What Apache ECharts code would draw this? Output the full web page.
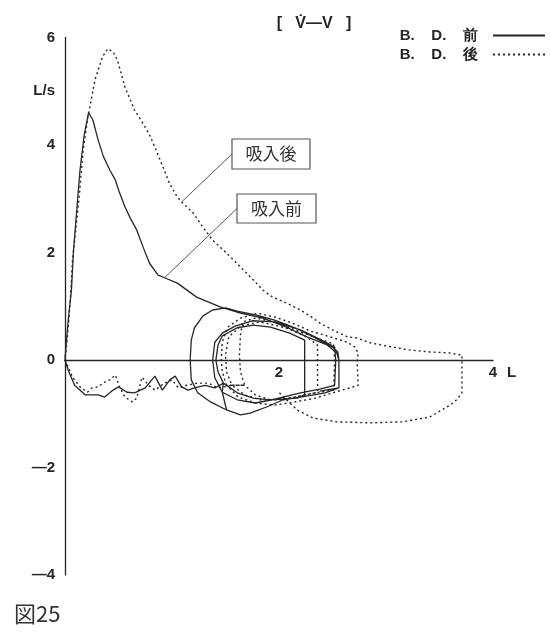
<!DOCTYPE html>
<html>
<head>
<meta charset="utf-8">
<script src="https://cdn.jsdelivr.net/npm/echarts@6/dist/echarts.min.js"></script>
<style>
  html, body { margin: 0; padding: 0; background: #fff; }
  #chart { width: 551px; height: 634px; }
</style>
</head>
<body>
<div id="chart"></div>
<script>
// Flow–volume loops before / after bronchodilator (volume in L, flow in L/s)

// ---- B.D. 前 (before) ----
// tidal breathing loops
const preTidal = [
  [1.51,-0.93],[1.36,-0.78],[1.24,-0.61],[1.18,-0.37],[1.17,0],[1.18,0.37],[1.21,0.60],[1.29,0.82],
  [1.38,0.93],[1.50,0.97],[1.61,0.91],[1.78,0.84],[1.96,0.74],[2.15,0.60],[2.34,0.41],[2.50,0.24],
  [2.55,0.15],[2.56,0],[2.56,-0.52],[2.43,-0.61],[2.20,-0.69],[2.04,-0.74],[1.89,-0.87],[1.73,-0.99],
  [1.64,-1.02],[1.51,-0.93],
  [1.47,-0.60],[1.40,-0.33],[1.38,0],[1.40,0.33],[1.47,0.50],[1.59,0.63],[1.75,0.73],[1.96,0.71],
  [2.20,0.56],[2.38,0.39],[2.52,0.24],[2.53,0],[2.52,-0.47],[2.38,-0.54],[2.20,-0.61],[1.96,-0.73],
  [1.78,-0.80],[1.61,-0.74],[1.47,-0.60],
  [1.48,-0.43],[1.43,-0.22],[1.41,0],[1.43,0.28],[1.47,0.45],[1.61,0.60],[1.76,0.65],[1.92,0.61],
  [2.10,0.50],[2.24,0.37],[2.24,0],[2.24,-0.65],[2.17,-0.71],[1.92,-0.74],[1.76,-0.71],[1.61,-0.61],
  [1.48,-0.43]
];
// maximal inspiration back to full lung volume
const preInspiration = [
  [1.40,-0.52],[1.31,-0.47],[1.21,-0.52],[1.15,-0.56],[1.09,-0.50],[1.03,-0.30],[0.98,-0.37],
  [0.91,-0.56],[0.84,-0.30],[0.75,-0.52],[0.65,-0.61],[0.58,-0.60],[0.50,-0.50],[0.45,-0.56],
  [0.37,-0.69],[0.31,-0.65],[0.19,-0.65],[0.09,-0.47],[0.03,-0.19],[0,0]
];
// forced expiration
const preForced = [
  [0.01,0.28],[0.03,0.74],[0.06,1.30],[0.08,2.05],[0.11,2.79],[0.14,3.53],[0.18,4.19],[0.21,4.50],
  [0.22,4.60],[0.26,4.47],[0.31,4.09],[0.36,3.78],[0.42,3.53],[0.47,3.35],[0.51,3.11],[0.56,2.85],
  [0.61,2.64],[0.67,2.42],[0.73,2.10],[0.79,1.80],[0.87,1.58],[0.93,1.53],[1.05,1.43],[1.23,1.17],
  [1.45,0.99],[1.64,0.87],[1.85,0.78],[2.07,0.61],[2.26,0.43],[2.45,0.28],[2.54,0.13],[2.56,0],
  [2.56,-0.52],[2.38,-0.58]
];

// ---- B.D. 後 (after) ----
const postTidal = [
  [1.51,-0.47],[1.47,-0.22],[1.46,0],[1.47,0.33],[1.52,0.61],[1.64,0.78],[1.80,0.87],[1.96,0.80],
  [2.12,0.69],[2.29,0.54],[2.48,0.43],[2.64,0.33],[2.71,0.24],[2.74,0.13],[2.73,-0.04],[2.74,-0.47],
  [2.66,-0.52],[2.52,-0.60],[2.34,-0.71],[2.15,-0.78],[1.96,-0.84],[1.78,-0.80],[1.62,-0.69],[1.51,-0.47],
  [1.68,-0.47],[1.64,-0.22],[1.63,0.09],[1.64,0.47],[1.66,0.71],[1.78,0.78],[1.96,0.71],[2.20,0.52],
  [2.38,0.39],[2.51,0.30],[2.52,0],[2.51,-0.56],[2.34,-0.61],[2.10,-0.71],[1.92,-0.74],[1.78,-0.65],
  [1.68,-0.47],
  [1.56,-0.47],[1.51,-0.22],[1.50,0.09],[1.53,0.43],[1.64,0.63],[1.82,0.71],[2.06,0.60],[2.24,0.45],
  [2.36,0.28],[2.36,0],[2.36,-0.60],[2.20,-0.67],[2.01,-0.74],[1.82,-0.74],[1.68,-0.65],[1.56,-0.47]
];
const postInspiration = [
  [1.43,-0.52],[1.34,-0.43],[1.24,-0.43],[1.14,-0.47],[1.06,-0.52],[1.00,-0.37],[0.93,-0.43],
  [0.84,-0.56],[0.78,-0.47],[0.72,-0.32],[0.67,-0.71],[0.63,-0.78],[0.56,-0.69],[0.51,-0.50],
  [0.47,-0.28],[0.42,-0.37],[0.37,-0.41],[0.31,-0.50],[0.25,-0.52],[0.21,-0.60],[0.14,-0.50],
  [0.07,-0.32],[0.03,-0.13],[0,0]
];
const postForced = [
  [0.02,0.37],[0.05,1.12],[0.07,1.86],[0.10,2.42],[0.13,2.98],[0.17,3.91],[0.21,4.47],[0.28,5.21],
  [0.35,5.64],[0.40,5.79],[0.45,5.73],[0.49,5.58],[0.56,5.08],[0.65,4.65],[0.72,4.43],[0.79,4.19],
  [0.85,3.91],[0.92,3.57],[0.98,3.27],[1.05,3.03],[1.09,2.94],[1.20,2.73],[1.29,2.47],[1.38,2.23],
  [1.51,1.99],[1.64,1.73],[1.76,1.49],[1.85,1.30],[1.94,1.17],[2.07,1.06],[2.20,0.93],[2.29,0.82],
  [2.38,0.69],[2.50,0.56],[2.64,0.43],[2.73,0.41],[2.85,0.32],[3.01,0.26],[3.20,0.19],[3.41,0.15],
  [3.60,0.13],[3.71,0.09],[3.71,0]
];
// inspiration after the forced breath
const postReturn = [
  [3.71,-0.61],[3.66,-0.74],[3.60,-0.84],[3.41,-1.06],[3.16,-1.15],[2.85,-1.17],[2.54,-1.15],
  [2.32,-1.08],[2.17,-0.93],[2.07,-0.74],[2.00,-0.60]
];

// points the callouts point at
const calloutPost = [1.09, 2.94];
const calloutPre = [0.93, 1.53];

// axis tick labels
const xTickValues = [2, 4];
const xTickLabels = ['2', '4'];
const yTickLabels = { 6: '6', 5: 'L/s', 4: '4', 2: '2', 0: '0', '-2': '—2', '-4': '—4' };

const seriesNames = ['B.    D.    前', 'B.    D.    後'];

const preData = preTidal.concat(preInspiration, preForced);
const postData = postTidal.concat(postInspiration, postForced, postReturn);

const ink = '#262626';
const numFont = { fontFamily: 'Liberation Sans', fontWeight: 'bold', fontSize: 15, color: ink };

const chart = echarts.init(document.getElementById('chart'), null, { renderer: 'canvas' });

chart.setOption({
  animation: false,
  backgroundColor: '#fff',
  title: {
    text: '[   V\u0307—V   ]',
    left: 309, top: 11, textAlign: 'center',
    textStyle: { fontFamily: 'Liberation Sans', fontWeight: 'bold', fontSize: 16, color: ink }
  },
  legend: {
    right: 0, top: 23, orient: 'vertical', align: 'right',
    itemWidth: 52, itemHeight: 12, itemGap: 4,
    itemStyle: { color: 'rgba(0,0,0,0)', borderColor: 'rgba(0,0,0,0)', borderWidth: 0, opacity: 0 },
    textStyle: { fontFamily: 'Liberation Sans', fontWeight: 'bold', fontSize: 15, color: ink, padding: [0, 10, 0, 0] },
    data: seriesNames
  },
  grid: { left: 65, right: 58, top: 37.5, bottom: 59, containLabel: false },
  xAxis: {
    type: 'value', min: 0, max: 4, interval: 1,
    axisLine: { show: true, onZero: true, lineStyle: { color: ink, width: 1.3 } },
    axisTick: { show: false },
    splitLine: { show: false },
    axisLabel: { show: false },
    name: 'L', nameLocation: 'end', nameGap: 14,
    nameTextStyle: Object.assign({ verticalAlign: 'top', padding: [5, 0, 0, 0] }, numFont)
  },
  yAxis: {
    type: 'value', min: -4, max: 6, interval: 1,
    axisLine: { show: true, onZero: false, lineStyle: { color: ink, width: 1.3 } },
    axisTick: { show: false },
    splitLine: { show: false },
    axisLabel: Object.assign({ margin: 10, formatter: v => yTickLabels[v] || '' }, numFont)
  },
  series: [
    {
      name: seriesNames[0], type: 'line', data: preData,
      symbol: 'none', smooth: false, z: 3,
      lineStyle: { color: ink, width: 1.3, type: 'solid' },
      itemStyle: { color: ink }
    },
    {
      name: seriesNames[1], type: 'line', data: postData,
      symbol: 'none', smooth: false, z: 2,
      lineStyle: { color: ink, width: 1.4, type: [2, 3] },
      itemStyle: { color: ink }
    }
  ]
});

// callout boxes with leader lines to the curves
function callout(text, box, target) {
  const p = chart.convertToPixel({ gridIndex: 0 }, target);
  const [x, y, w, h] = box;
  return [
    { type: 'line', silent: true, z: 10,
      shape: { x1: x, y1: y + h / 2, x2: p[0], y2: p[1] },
      style: { stroke: '#555', lineWidth: 1 } },
    { type: 'rect', silent: true, z: 11,
      shape: { x: x, y: y, width: w, height: h },
      style: { fill: '#fff', stroke: '#555', lineWidth: 1.2 } },
    { type: 'text', silent: true, z: 12,
      style: { x: x + w / 2, y: y + h / 2, text: text, align: 'center', verticalAlign: 'middle',
               font: '17px "Noto Sans CJK JP"', fill: '#333' } }
  ];
}

// volume tick labels sit just under the zero-flow line
const xLabels = xTickValues.map((v, i) => {
  const p = chart.convertToPixel({ gridIndex: 0 }, [v, 0]);
  return { type: 'text', silent: true, z: 12,
    style: { x: p[0], y: p[1] + 5, text: xTickLabels[i], align: 'center', verticalAlign: 'top',
             font: 'bold 15px "Liberation Sans"', fill: ink } };
});

chart.setOption({
  graphic: [].concat(
    callout('吸入後', [232, 139, 78, 30], calloutPost),
    callout('吸入前', [237, 194, 79, 29], calloutPre),
    xLabels,
    [{ type: 'text', silent: true, left: 14, top: 603,
       style: { text: '図25', font: '22px "Noto Sans CJK JP"', fill: '#333' } }]
  )
});
</script>
</body>
</html>
